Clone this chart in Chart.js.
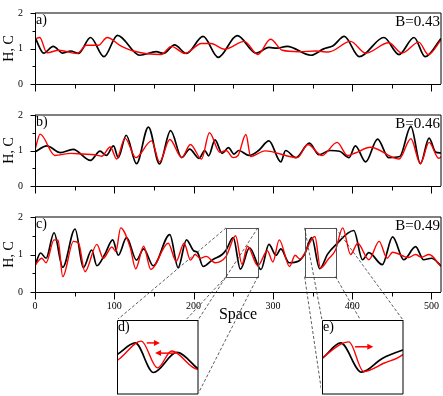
<!DOCTYPE html>
<html>
<head>
<meta charset="utf-8">
<title>H, C vs Space</title>
<script src="https://cdn.jsdelivr.net/npm/chart.js@4.4.1/dist/chart.umd.min.js"></script>
<style>
  html, body { margin: 0; padding: 0; background: #fff; }
  #fig { position: relative; width: 443px; height: 396px; overflow: hidden; }
  #fig canvas { position: absolute; }
  .inset { background: #fff; }
</style>
</head>
<body>
<div id="fig">
  <canvas id="panelA" width="443" height="97" style="left:0;top:0"></canvas>
  <canvas id="panelB" width="443" height="97" style="left:0;top:102px"></canvas>
  <canvas id="panelC" width="443" height="126" style="left:0;top:204px"></canvas>
  <canvas id="links" width="443" height="396" style="left:0;top:0"></canvas>
  <canvas id="insetD" class="inset" width="83" height="76" style="left:116px;top:319px"></canvas>
  <canvas id="insetE" class="inset" width="83" height="76" style="left:321px;top:319px"></canvas>
</div>
<script>
/* ---- data (local maxima / minima of each profile) ---- */
const spaceTicks = [0, 100, 200, 300, 400, 500];
const hcTicks = [0, 1, 2];
const bLabels = ['B=0.43', 'B=0.46', 'B=0.49'];
const panelLetters = ['a)', 'b)', 'c)'];
const insetLetters = ['d)', 'e)'];

const aBlackX = [0, 11, 23, 35, 45, 55, 70, 87, 104, 132, 153, 162, 176, 191, 212, 231, 255, 279, 295, 305, 318, 348, 364, 376, 390, 409, 440, 459, 478, 492, 512];
const aBlackY = [1.31, 0.87, 1.06, 0.87, 0.93, 0.86, 1.31, 0.77, 1.37, 0.81, 0.91, 0.86, 1.10, 0.86, 1.34, 0.75, 1.36, 0.87, 1.03, 1.01, 1.06, 0.81, 0.99, 1.08, 1.34, 0.77, 1.31, 0.83, 1.31, 0.77, 1.28];
const aRedX = [0, 6, 15, 30, 53, 65, 80, 91, 107, 124, 159, 172, 189, 210, 222, 239, 264, 281, 297, 312, 333, 354, 370, 398, 417, 446, 463, 484, 496, 512];
const aRedY = [1.27, 1.31, 0.88, 0.95, 0.86, 1.09, 1.09, 1.31, 1.09, 0.93, 0.83, 1.06, 0.86, 1.14, 1.14, 0.98, 1.2, 0.83, 1.26, 0.95, 0.91, 0.93, 0.9, 1.2, 0.87, 1.16, 0.87, 1.18, 0.83, 1.24];

const bBlackX = [0, 15, 32, 48, 70, 82, 90, 99, 105, 115, 128, 143, 157, 171, 185, 195, 207, 214, 219, 227, 236, 244, 251, 257, 270, 282, 295, 310, 316, 329, 346, 358, 372, 384, 396, 404, 417, 432, 446, 460, 474, 486, 497, 505, 512];
const bBlackY = [0.96, 1.13, 0.94, 1.03, 0.72, 0.98, 0.86, 1.13, 0.80, 1.43, 0.63, 1.66, 0.62, 1.56, 0.8, 1.04, 0.78, 1.0, 0.85, 1.3, 0.92, 1.08, 0.9, 1.0, 0.86, 1.0, 1.27, 0.68, 1.0, 0.8, 1.21, 0.88, 1.0, 0.98, 0.8, 1.13, 0.68, 1.32, 0.8, 0.83, 1.68, 0.63, 1.35, 0.96, 0.93];
const bRedX = [0, 6.5, 25, 45, 60, 75, 84, 95, 103, 113.5, 127, 147, 157, 170, 185, 196, 210, 220, 233, 241, 250, 256, 266, 272, 290, 331, 344, 362, 381, 394, 404, 423, 459, 474, 486, 497, 509, 512];
const bRedY = [1.02, 1.46, 0.86, 0.92, 0.9, 0.88, 0.84, 1.1, 0.76, 1.35, 0.8, 1.27, 0.68, 1.31, 0.8, 1.17, 0.76, 1.5, 0.95, 1.0, 0.8, 0.86, 1.45, 0.83, 0.99, 0.8, 1.17, 0.86, 1.23, 0.86, 0.93, 1.09, 0.76, 1.33, 0.63, 1.23, 0.78, 0.82];

const cBlackX = [0, 7, 14, 24, 35, 50.5, 61, 71.5, 78, 88, 98, 105, 115.5, 128, 137, 149, 170, 180.5, 191, 200, 205, 212, 224, 236, 241, 250, 259, 270.5, 285, 295, 304, 310, 320.5, 332, 340, 349, 359, 369, 379, 402, 413, 421, 438, 451, 465, 480, 490, 500, 512];
const cBlackY = [0.70, 1.04, 0.9, 1.58, 0.66, 1.68, 0.65, 1.12, 0.7, 1.0, 1.39, 0.98, 1.45, 0.85, 1.15, 0.7, 1.53, 0.65, 1.39, 1.1, 1.05, 0.68, 0.86, 1.0, 1.12, 1.45, 0.61, 1.18, 0.6, 1.27, 0.98, 1.15, 0.78, 0.82, 1.01, 1.45, 0.62, 1.01, 1.25, 1.64, 0.86, 1.05, 0.73, 1.47, 0.86, 1.21, 0.86, 0.9, 0.7];
const cRedX = [0, 8.6, 14, 24, 29, 35, 48.5, 55, 63, 78, 86, 97, 102, 108, 120, 127, 137, 146, 168, 178, 188, 196, 202, 208, 216, 227, 241, 253, 261, 268, 281, 293, 300, 308, 321, 328, 334, 353, 360, 370, 379, 388, 398, 407, 421, 434, 444, 451, 471, 480, 487, 497, 512];
const cRedY = [0.72, 0.9, 0.78, 1.39, 1.38, 0.41, 1.35, 1.3, 0.54, 1.27, 0.9, 1.2, 1.08, 1.71, 1.19, 0.62, 1.22, 0.6, 1.3, 0.82, 1.3, 0.85, 1.0, 0.9, 0.95, 0.78, 0.95, 1.5, 0.74, 1.22, 0.7, 1.1, 0.8, 1.39, 0.68, 0.98, 0.88, 1.48, 0.64, 0.88, 1.12, 1.71, 1.0, 1.3, 0.86, 1.35, 0.9, 1.06, 0.92, 1.0, 0.93, 1.0, 0.68];

// zoom windows of panel c, shown enlarged in insets d) and e)
const zoomX = [[241, 281], [340, 379]];
const zoomY = [0.41, 1.71];
const insetY = [0, 2.1];
// arrows in the insets: [from x, to x, level]
const arrowsD = [[255.7, 262.2, 1.45], [269.6, 259.8, 1.16]];
const arrowsE = [[355.9, 364.7, 1.34]];

/* ---- style ---- */
const SERIF = "'Liberation Serif', 'DejaVu Serif', serif";
const RED = '#ff0000';
const NONE = 'rgba(0,0,0,0)';
Chart.defaults.font.family = SERIF;
Chart.defaults.color = '#000';

function pts(xs, ys) { return xs.map((x, i) => ({ x, y: ys[i] })); }

function lineSet(xs, ys, color, w) {
  return {
    data: pts(xs, ys), borderColor: color, borderWidth: w,
    pointRadius: 0, fill: false,
    cubicInterpolationMode: 'monotone', capBezierPoints: false
  };
}

/* frame, tick marks, labels and zoom boxes of the three main panels */
const panelDecor = {
  id: 'panelDecor',
  afterDatasetsDraw(chart, args, o) {
    const { ctx, chartArea: a, scales: { x, y } } = chart;
    ctx.save();

    (o.boxes || []).forEach(([x0, x1]) => {
      const l = Math.round(x.getPixelForValue(x0)) + 0.5, r = Math.round(x.getPixelForValue(x1)) + 0.5;
      const t = Math.round(y.getPixelForValue(zoomY[1])) + 0.5, b = Math.round(y.getPixelForValue(zoomY[0])) + 0.5;
      ctx.strokeStyle = '#555'; ctx.lineWidth = 1;
      ctx.strokeRect(l, t, r - l, b - t);
    });

    ctx.strokeStyle = '#000'; ctx.lineWidth = 1;
    // top / right edges (soft), left / bottom axes (crisp)
    ctx.beginPath();
    ctx.moveTo(a.left, a.top); ctx.lineTo(a.right, a.top); ctx.lineTo(a.right, a.bottom);
    ctx.stroke();
    const L = Math.floor(a.left) + 0.5, B = Math.floor(a.bottom) + 0.5;
    ctx.beginPath();
    ctx.moveTo(L, a.top); ctx.lineTo(L, B); ctx.lineTo(a.right, B);
    // x ticks: major at labels, minor halfway
    spaceTicks.forEach(v => {
      const px = Math.round(x.getPixelForValue(v)) + 0.5;
      ctx.moveTo(px, B); ctx.lineTo(px, B + 7);
      const m = Math.round(x.getPixelForValue(v + 50)) + 0.5;
      if (v + 50 <= x.max) { ctx.moveTo(m, B); ctx.lineTo(m, B + 4); }
    });
    hcTicks.forEach(v => {
      const py = Math.round(y.getPixelForValue(v)) + 0.5;
      ctx.moveTo(L, py); ctx.lineTo(L - 5, py);
      if (v + 0.5 < y.max) {
        const m = Math.round(y.getPixelForValue(v + 0.5)) + 0.5;
        ctx.moveTo(L, m); ctx.lineTo(L - 3, m);
      }
    });
    ctx.stroke();

    ctx.fillStyle = '#000';
    ctx.textBaseline = 'alphabetic';
    ctx.font = '14px ' + SERIF;
    ctx.textAlign = 'left';
    ctx.fillText(o.letter, a.left + 1, a.top + 10.5);
    ctx.font = '15px ' + SERIF;
    ctx.textAlign = 'right';
    ctx.fillText(o.bLabel, a.right - 1, a.top + 12.5);

    // y title
    ctx.save();
    ctx.translate(9, (a.top + a.bottom) / 2);
    ctx.rotate(-Math.PI / 2);
    ctx.font = '14px ' + SERIF;
    ctx.textAlign = 'center'; ctx.textBaseline = 'middle';
    ctx.fillText('H, C', 0, 0);
    ctx.restore();

    if (o.title) {
      ctx.font = '16px ' + SERIF;
      ctx.textAlign = 'center';
      ctx.fillText(o.title, (a.left + a.right) / 2, a.bottom + 26.5);
    }
    ctx.restore();
  }
};

function panel(id, idx, blackX, blackY, redX, redY, extra) {
  const showX = !!extra.title;
  return new Chart(document.getElementById(id), {
    type: 'line',
    data: { datasets: [lineSet(redX, redY, RED, 1.4), lineSet(blackX, blackY, '#000', 1.7)] },
    plugins: [panelDecor],
    options: {
      responsive: false, animation: false, devicePixelRatio: 1,
      layout: { padding: { top: 6, right: 2, left: 0, bottom: 0 } },
      scales: {
        x: {
          type: 'linear', min: 0, max: 512,
          afterBuildTicks: s => { s.ticks = spaceTicks.map(v => ({ value: v })); },
          afterFit: s => { s.height = showX ? 38 : 10; },
          grid: { drawOnChartArea: false, tickLength: 6, tickColor: NONE },
          border: { display: false },
          ticks: { display: showX, font: { size: 10 }, padding: 2, maxRotation: 0 }
        },
        y: {
          type: 'linear', min: 0, max: 2,
          afterBuildTicks: s => { s.ticks = hcTicks.map(v => ({ value: v })); },
          afterFit: s => { s.width = 35; },
          grid: { drawOnChartArea: false, tickLength: 5, tickColor: NONE },
          border: { display: false },
          ticks: { font: { size: 10 }, padding: 7 }
        }
      },
      plugins: {
        legend: { display: false }, tooltip: { enabled: false },
        panelDecor: Object.assign({ letter: panelLetters[idx], bLabel: bLabels[idx] }, extra)
      }
    }
  });
}

const chartA = panel('panelA', 0, aBlackX, aBlackY, aRedX, aRedY, {});
const chartB = panel('panelB', 1, bBlackX, bBlackY, bRedX, bRedY, {});
const chartC = panel('panelC', 2, cBlackX, cBlackY, cRedX, cRedY, { boxes: zoomX, title: 'Space' });

/* insets: the same profiles of panel c, enlarged */
const insetDecor = {
  id: 'insetDecor',
  afterDatasetsDraw(chart, args, o) {
    const { ctx, chartArea: a, scales: { x, y } } = chart;
    ctx.save();
    ctx.strokeStyle = RED; ctx.fillStyle = RED; ctx.lineWidth = 1.5;
    o.arrows.forEach(([x0, x1, v]) => {
      const p0 = x.getPixelForValue(x0), p1 = x.getPixelForValue(x1), py = y.getPixelForValue(v);
      const dir = Math.sign(p1 - p0);
      ctx.beginPath(); ctx.moveTo(p0, py); ctx.lineTo(p1 - dir * 4, py); ctx.stroke();
      ctx.beginPath(); ctx.moveTo(p1, py); ctx.lineTo(p1 - dir * 6, py - 3); ctx.lineTo(p1 - dir * 6, py + 3);
      ctx.closePath(); ctx.fill();
    });
    ctx.strokeStyle = '#000'; ctx.lineWidth = 1;
    ctx.beginPath();
    ctx.moveTo(a.right, a.top); ctx.lineTo(a.right, a.bottom); ctx.lineTo(a.left, a.bottom);
    ctx.stroke();
    ctx.beginPath();
    ctx.moveTo(a.left + 0.5, a.bottom); ctx.lineTo(a.left + 0.5, a.top + 0.5); ctx.lineTo(a.right, a.top + 0.5);
    ctx.stroke();
    ctx.fillStyle = '#000';
    ctx.font = '14px ' + SERIF;
    ctx.textAlign = 'left'; ctx.textBaseline = 'alphabetic';
    ctx.fillText(o.letter, a.left + 1, a.top + 10.5);
    ctx.restore();
  }
};

function inset(id, k, arrows) {
  return new Chart(document.getElementById(id), {
    type: 'line',
    data: { datasets: [lineSet(cRedX, cRedY, RED, 1.4), lineSet(cBlackX, cBlackY, '#000', 1.7)] },
    plugins: [insetDecor],
    options: {
      responsive: false, animation: false, devicePixelRatio: 1,
      layout: { padding: 1 },
      scales: {
        x: { type: 'linear', min: zoomX[k][0], max: zoomX[k][1], display: false },
        y: { type: 'linear', min: insetY[0], max: insetY[1], display: false }
      },
      plugins: {
        legend: { display: false }, tooltip: { enabled: false },
        insetDecor: { letter: insetLetters[k], arrows }
      }
    }
  });
}

const insetD = inset('insetD', 0, arrowsD);
const insetE = inset('insetE', 1, arrowsE);

/* dashed lines from the zoom boxes to the insets */
function drawLinks() {
  const ctx = document.getElementById('links').getContext('2d');
  const ox = chartC.canvas.offsetLeft, oy = chartC.canvas.offsetTop;
  const { x, y } = chartC.scales;
  ctx.setLineDash([3, 2]);
  ctx.strokeStyle = '#333';
  ctx.lineWidth = 0.8;
  [insetD, insetE].forEach((ins, k) => {
    const bl = ox + x.getPixelForValue(zoomX[k][0]), br = ox + x.getPixelForValue(zoomX[k][1]);
    const bt = oy + y.getPixelForValue(zoomY[1]), bb = oy + y.getPixelForValue(zoomY[0]);
    const a = ins.chartArea, ix = ins.canvas.offsetLeft, iy = ins.canvas.offsetTop;
    const il = ix + a.left, ir = ix + a.right, it = iy + a.top, ib = iy + a.bottom;
    [[bl, bt, il, it], [br, bt, ir, it], [bl, bb, il, ib], [br, bb, ir, ib]].forEach(s => {
      ctx.beginPath(); ctx.moveTo(s[0], s[1]); ctx.lineTo(s[2], s[3]); ctx.stroke();
    });
  });
}
drawLinks();
</script>
</body>
</html>
